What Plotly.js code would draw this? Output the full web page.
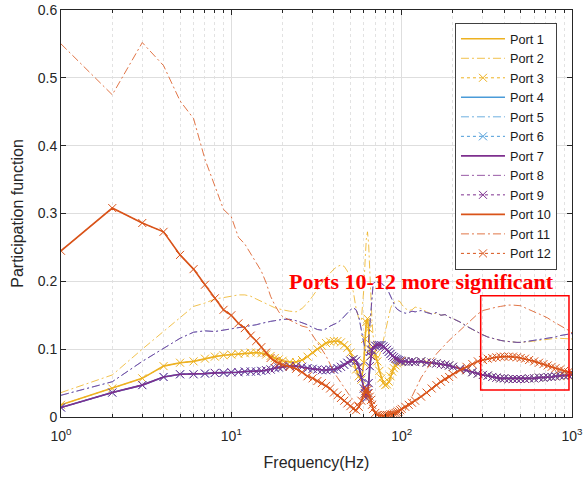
<!DOCTYPE html>
<html><head><meta charset="utf-8">
<script src="https://cdn.plot.ly/plotly-3.0.1.min.js"></script>
<style>html,body{margin:0;padding:0;background:#fff}#chart{width:586px;height:478px}</style>
</head><body><div id="chart"></div>
<script>
// Frequencies (Hz)
const freq = [
  1,2,3,4,5,6,7,8,9,10,11,12,13,14,15,16,17,18,19,20,
  22,24,26,28,30,32,34,36,38,40,42,44,46,48,50,52,54,56,58,60,
  61,62,63,64,65,66,67,68,
  70,72,74,76,78,80,82,84,86,88,90,92,94,96,98,100,
  105,110,115,120,
  130,140,150,160,170,180,190,200,
  220,240,260,280,300,320,340,360,380,400,
  425,450,475,500,
  530,560,600,640,680,720,760,800,
  850,900,950,1000
];
// Ports 1 & 3 (yellow, coincide)
const port1 = [
  0.018,0.042,0.057,0.075,0.080,0.082,0.086,0.089,0.091,0.092,0.093,0.094,0.095,0.095,0.094,0.092,0.090,0.087,0.085,0.083,
  0.081,0.081,0.084,0.089,0.095,0.100,0.105,0.109,0.111,0.112,0.112,0.110,0.106,0.102,0.095,0.085,0.070,0.060,0.055,0.080,
  0.115,0.140,0.145,0.130,0.100,0.090,0.092,0.095,
  0.092,0.082,0.068,0.057,0.050,0.047,0.048,0.052,0.060,0.067,0.072,0.076,0.079,0.081,0.082,0.083,
  0.082,0.081,0.082,0.081,
  0.082,0.081,0.080,0.079,0.078,0.077,0.076,0.074,
  0.071,0.069,0.066,0.064,0.062,0.061,0.059,0.058,0.057,0.057,
  0.056,0.056,0.056,0.056,
  0.056,0.057,0.057,0.058,0.058,0.059,0.059,0.060,
  0.060,0.061,0.061,0.062
];
const port3 = port1;
// Port 2 (yellow dash-dot)
const port2 = [
  0.036,0.062,0.100,0.126,0.147,0.163,0.168,0.174,0.176,0.178,0.180,0.180,0.178,0.174,0.170,0.167,0.164,0.161,0.159,0.158,
  0.156,0.155,0.160,0.168,0.178,0.188,0.198,0.206,0.212,0.218,0.222,0.224,0.222,0.215,0.200,0.185,0.160,0.145,0.143,0.190,
  0.230,0.262,0.273,0.255,0.215,0.170,0.140,0.120,
  0.095,0.088,0.090,0.100,0.112,0.125,0.138,0.150,0.160,0.166,0.169,0.170,0.171,0.171,0.170,0.166,
  0.160,0.157,0.158,0.162,
  0.160,0.155,0.152,0.153,0.150,0.151,0.147,0.145,
  0.140,0.134,0.129,0.125,0.121,0.118,0.116,0.114,0.113,0.112,
  0.111,0.110,0.110,0.110,
  0.110,0.111,0.112,0.113,0.114,0.115,0.116,0.116,
  0.116,0.116,0.115,0.115
];
// Ports 4, 6, 7, 9 (blue / purple, coincide)
const port7 = [
  0.014,0.036,0.047,0.059,0.063,0.063,0.064,0.065,0.065,0.066,0.066,0.067,0.067,0.067,0.068,0.069,0.070,0.072,0.073,0.074,
  0.075,0.075,0.074,0.072,0.071,0.070,0.069,0.069,0.070,0.070,0.072,0.074,0.077,0.080,0.083,0.085,0.083,0.074,0.058,0.042,
  0.035,0.028,0.035,0.050,0.075,0.090,0.098,0.103,
  0.105,0.106,0.106,0.106,0.104,0.102,0.099,0.096,0.093,0.090,0.088,0.086,0.085,0.084,0.083,0.082,
  0.082,0.081,0.082,0.081,
  0.082,0.080,0.080,0.079,0.078,0.077,0.076,0.074,
  0.071,0.069,0.066,0.064,0.062,0.061,0.059,0.058,0.057,0.057,
  0.056,0.056,0.056,0.056,
  0.056,0.057,0.057,0.058,0.058,0.059,0.059,0.060,
  0.061,0.061,0.062,0.062
];
const port4 = port7, port6 = port7, port9 = port7;
// Ports 5 & 8 (blue / purple dash-dot)
const port8 = [
  0.032,0.052,0.082,0.101,0.116,0.125,0.127,0.126,0.128,0.130,0.131,0.133,0.134,0.136,0.138,0.140,0.141,0.142,0.143,0.144,
  0.144,0.142,0.139,0.136,0.132,0.129,0.128,0.130,0.134,0.136,0.139,0.143,0.148,0.154,0.158,0.161,0.158,0.148,0.128,0.110,
  0.100,0.090,0.092,0.115,0.140,0.165,0.185,0.196,
  0.200,0.199,0.198,0.197,0.195,0.192,0.188,0.184,0.178,0.172,0.166,0.162,0.159,0.157,0.156,0.155,
  0.153,0.154,0.156,0.155,
  0.157,0.154,0.152,0.154,0.150,0.151,0.147,0.145,
  0.140,0.134,0.129,0.125,0.121,0.118,0.116,0.114,0.113,0.112,
  0.111,0.110,0.110,0.110,
  0.111,0.112,0.113,0.114,0.115,0.116,0.117,0.118,
  0.120,0.121,0.122,0.123
];
const port5 = port8;
// Ports 10 & 12 (orange)
const port10 = [
  0.245,0.308,0.286,0.273,0.239,0.218,0.195,0.175,0.158,0.150,0.138,0.131,0.120,0.112,0.103,0.095,0.087,0.082,0.079,0.077,
  0.074,0.071,0.066,0.060,0.057,0.053,0.050,0.046,0.042,0.036,0.032,0.028,0.024,0.020,0.016,0.012,0.010,0.015,0.024,0.033,
  0.038,0.042,0.040,0.035,0.030,0.025,0.018,0.012,
  0.006,0.003,0.002,0.002,0.002,0.003,0.003,0.003,0.004,0.004,0.005,0.006,0.007,0.008,0.010,0.012,
  0.015,0.018,0.021,0.024,
  0.030,0.036,0.042,0.047,0.052,0.056,0.059,0.063,
  0.069,0.074,0.078,0.082,0.084,0.086,0.087,0.088,0.089,0.089,
  0.089,0.089,0.088,0.087,
  0.086,0.084,0.082,0.080,0.078,0.076,0.074,0.072,
  0.070,0.068,0.066,0.065
];
const port12 = port10;
// Port 11 (orange dash-dot)
const port11 = [
  0.550,0.475,0.552,0.518,0.466,0.440,0.380,0.340,0.306,0.295,0.265,0.255,0.240,0.227,0.215,0.198,0.178,0.165,0.155,0.148,
  0.143,0.138,0.134,0.132,0.120,0.110,0.100,0.090,0.078,0.066,0.058,0.050,0.043,0.036,0.030,0.025,0.020,0.018,0.020,0.030,
  0.036,0.040,0.036,0.028,0.020,0.014,0.010,0.007,
  0.004,0.003,0.003,0.003,0.003,0.003,0.003,0.003,0.003,0.003,0.003,0.003,0.004,0.004,0.005,0.006,
  0.010,0.020,0.030,0.040,
  0.058,0.070,0.082,0.093,0.100,0.107,0.113,0.118,
  0.128,0.136,0.145,0.152,0.157,0.159,0.161,0.162,0.163,0.164,
  0.165,0.165,0.165,0.164,
  0.161,0.158,0.155,0.152,0.149,0.146,0.142,0.139,
  0.135,0.131,0.128,0.124
];

const seriesNames = ['Port 1','Port 2','Port 3','Port 4','Port 5','Port 6','Port 7','Port 8','Port 9','Port 10','Port 11','Port 12'];
const seriesValues = [port1,port2,port3,port4,port5,port6,port7,port8,port9,port10,port11,port12];
const xTickVals = [1,10,100,1000];
const xTickText = ['10<sup>0</sup>','10<sup>1</sup>','10<sup>2</sup>','10<sup>3</sup>'];
const xMinorVals = [2,3,4,5,6,7,8,9,20,30,40,50,60,70,80,90,200,300,400,500,600,700,800,900];

const groupColors = ['#EDB120','#4A9BD8','#7E2F8E','#D95319'];
const dashDot = '8px,3px,2px,3px';

const traces = seriesValues.map((vals, i) => {
  const color = groupColors[Math.floor(i / 3)];
  const kind = i % 3;
  const t = {
    x: freq, y: vals, name: seriesNames[i], type: 'scatter',
    line: {color: color, width: kind === 0 ? 1.6 : 1, dash: kind === 0 ? 'solid' : (kind === 1 ? dashDot : 'dot')},
    mode: kind === 2 ? 'lines+markers' : 'lines'
  };
  if (kind === 1) t.opacity = 0.8;
  if (kind === 2) {
    t.marker = {symbol: 'x-thin', size: 8, color: color, line: {color: color, width: 1}};
  }
  return t;
});

const axisColor = '#262626';
const layout = {
  width: 586, height: 478,
  margin: {l: 61, r: 14, t: 10, b: 61},
  paper_bgcolor: '#fff', plot_bgcolor: '#fff',
  font: {family: 'Liberation Sans, Arial, sans-serif', size: 13, color: axisColor},
  showlegend: true,
  legend: {
    x: 0.771, y: 0.968, xanchor: 'left', yanchor: 'top',
    bgcolor: '#fff', bordercolor: '#404040', borderwidth: 1,
    font: {size: 12.7, color: '#1a1a1a'}, itemwidth: 44, tracegroupgap: 0
  },
  xaxis: {
    type: 'log', range: [0, 3],
    tickmode: 'array', tickvals: xTickVals, ticktext: xTickText,
    ticks: 'inside', ticklen: 5, tickcolor: axisColor,
    showline: true, linecolor: axisColor, linewidth: 1, mirror: 'ticks',
    showgrid: true, gridcolor: '#dedede', gridwidth: 1,
    tickfont: {size: 14, color: axisColor}, ticklabelstandoff: 6,
    minor: {tickmode: 'array', tickvals: xMinorVals, ticks: 'inside', ticklen: 3, tickcolor: axisColor,
            showgrid: true, gridcolor: '#e2e2e2', griddash: 'dot', gridwidth: 1},
    title: {text: 'Frequency(Hz)', font: {size: 16, color: axisColor}, standoff: 14},
    zeroline: false
  },
  yaxis: {
    range: [0, 0.6], dtick: 0.1, tick0: 0,
    ticks: 'inside', ticklen: 5, tickcolor: axisColor,
    showline: true, linecolor: axisColor, linewidth: 1, mirror: 'ticks',
    showgrid: true, gridcolor: '#dedede', gridwidth: 1,
    tickfont: {size: 14, color: axisColor},
    title: {text: 'Participation function', font: {size: 16, color: axisColor}, standoff: 10},
    zeroline: false
  },
  annotations: [{
    xref: 'paper', yref: 'paper', x: 0.7055, y: 0.3317, xanchor: 'center', yanchor: 'middle',
    text: '<b>Ports 10-12 more significant</b>', showarrow: false,
    font: {family: 'Liberation Serif, Times New Roman, serif', size: 22, color: '#ff0000'}
  }],
  shapes: [{
    type: 'rect', xref: 'paper', yref: 'paper',
    x0: 0.8213, x1: 0.9941, y0: 0.0663, y1: 0.298,
    line: {color: '#ff0000', width: 1.5}
  }]
};

Plotly.newPlot('chart', traces, layout, {displayModeBar: false, staticPlot: true});
</script>
</body></html>
